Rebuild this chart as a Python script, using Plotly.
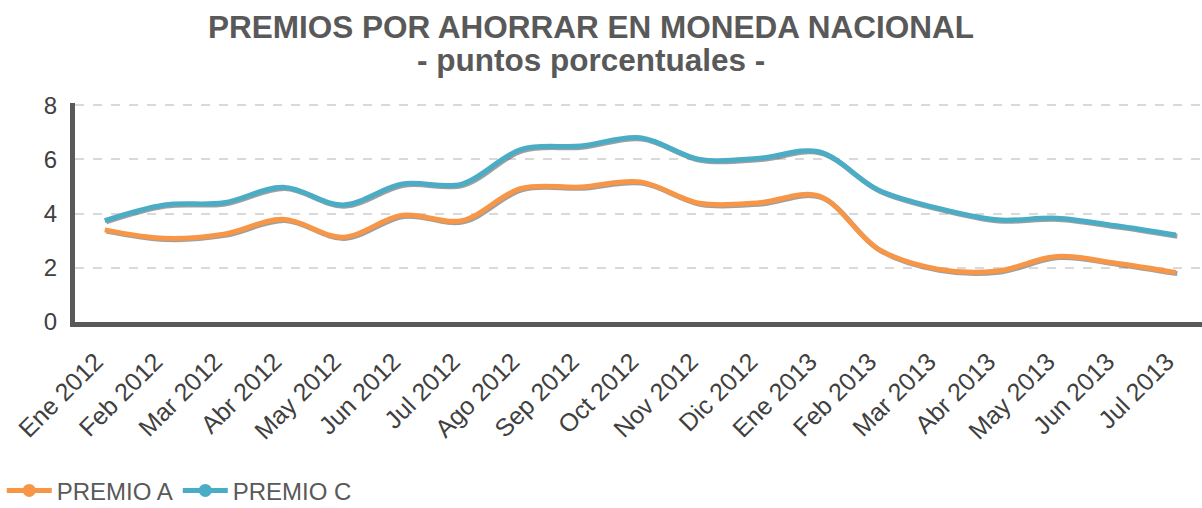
import plotly.graph_objects as go

# Monthly series, January 2012 to July 2013
months = ["Ene 2012", "Feb 2012", "Mar 2012", "Abr 2012", "May 2012", "Jun 2012",
          "Jul 2012", "Ago 2012", "Sep 2012", "Oct 2012", "Nov 2012", "Dic 2012",
          "Ene 2013", "Feb 2013", "Mar 2013", "Abr 2013", "May 2013", "Jun 2013",
          "Jul 2013"]
premio_a = [3.40, 3.09, 3.24, 3.79, 3.13, 3.94, 3.74, 4.93, 4.98, 5.17, 4.38, 4.40,
            4.65, 2.69, 1.95, 1.88, 2.42, 2.17, 1.83]
premio_c = [3.74, 4.32, 4.40, 4.97, 4.32, 5.09, 5.09, 6.37, 6.49, 6.80, 6.00, 6.04,
            6.28, 4.87, 4.20, 3.77, 3.83, 3.55, 3.21]
y_ticks = [0, 2, 4, 6, 8]

series = [("PREMIO A", premio_a, "#F79646"), ("PREMIO C", premio_c, "#4BACC6")]
idx = list(range(len(months)))

fig = go.Figure()

# soft drop shadow under each line
for name, vals, color in series:
    fig.add_trace(go.Scatter(
        x=[i + 0.025 for i in idx], y=[v - 0.045 for v in vals],
        mode="lines", line=dict(color="rgba(80,80,80,0.55)", width=5, shape="spline"),
        showlegend=False, hoverinfo="skip"))

for name, vals, color in series:
    fig.add_trace(go.Scatter(
        x=idx, y=vals, mode="lines", name=name,
        line=dict(color=color, width=5, shape="spline"),
        showlegend=False))

# legend keys: line with a round marker
for name, vals, color in series:
    fig.add_trace(go.Scatter(
        x=[None], y=[None], mode="lines+markers", name=name,
        line=dict(color=color, width=5),
        marker=dict(color=color, size=13)))

title_font = dict(family="Liberation Sans, Arial, sans-serif", size=31.5, color="#595959")
fig.add_annotation(text="<b>PREMIOS POR AHORRAR EN MONEDA NACIONAL</b>",
                   xref="paper", yref="paper", x=0.458, y=1.0, xanchor="center",
                   yanchor="middle", yshift=105 - 29, showarrow=False, font=title_font)
fig.add_annotation(text="<b>- puntos porcentuales -</b>",
                   xref="paper", yref="paper", x=0.458, y=1.0, xanchor="center",
                   yanchor="middle", yshift=105 - 62, showarrow=False, font=title_font)

fig.update_layout(
    width=1202, height=508,
    margin=dict(l=75, r=0, t=103, b=186, autoexpand=False),
    paper_bgcolor="white", plot_bgcolor="white",
    font=dict(family="Liberation Sans, Arial, sans-serif", color="#404040"),
    showlegend=True,
    legend=dict(orientation="h", x=-0.065, xanchor="left", y=-0.668, yanchor="top",
                font=dict(size=24, color="#595959"), itemwidth=45),
    xaxis=dict(
        range=[-0.5, 18.44], tickmode="array", tickvals=idx, ticktext=months,
        tickangle=-45, tickfont=dict(size=25, color="#404040"),
        ticklabelshift=-9, ticklabelstandoff=10, automargin=False,
        showgrid=False, zeroline=False,
        showline=True, linecolor="#595959", linewidth=5, ticks=""),
    yaxis=dict(
        range=[0, 8.08], tickmode="array", tickvals=y_ticks,
        tickfont=dict(size=24, color="#404040"), ticklabelstandoff=8, automargin=False,
        showgrid=True, gridcolor="#D9D9D9", griddash="dash", gridwidth=1.5,
        zeroline=False, showline=True, linecolor="#595959", linewidth=5,
        ticks="", ticklen=0),
)

fig.write_html("out.html")
